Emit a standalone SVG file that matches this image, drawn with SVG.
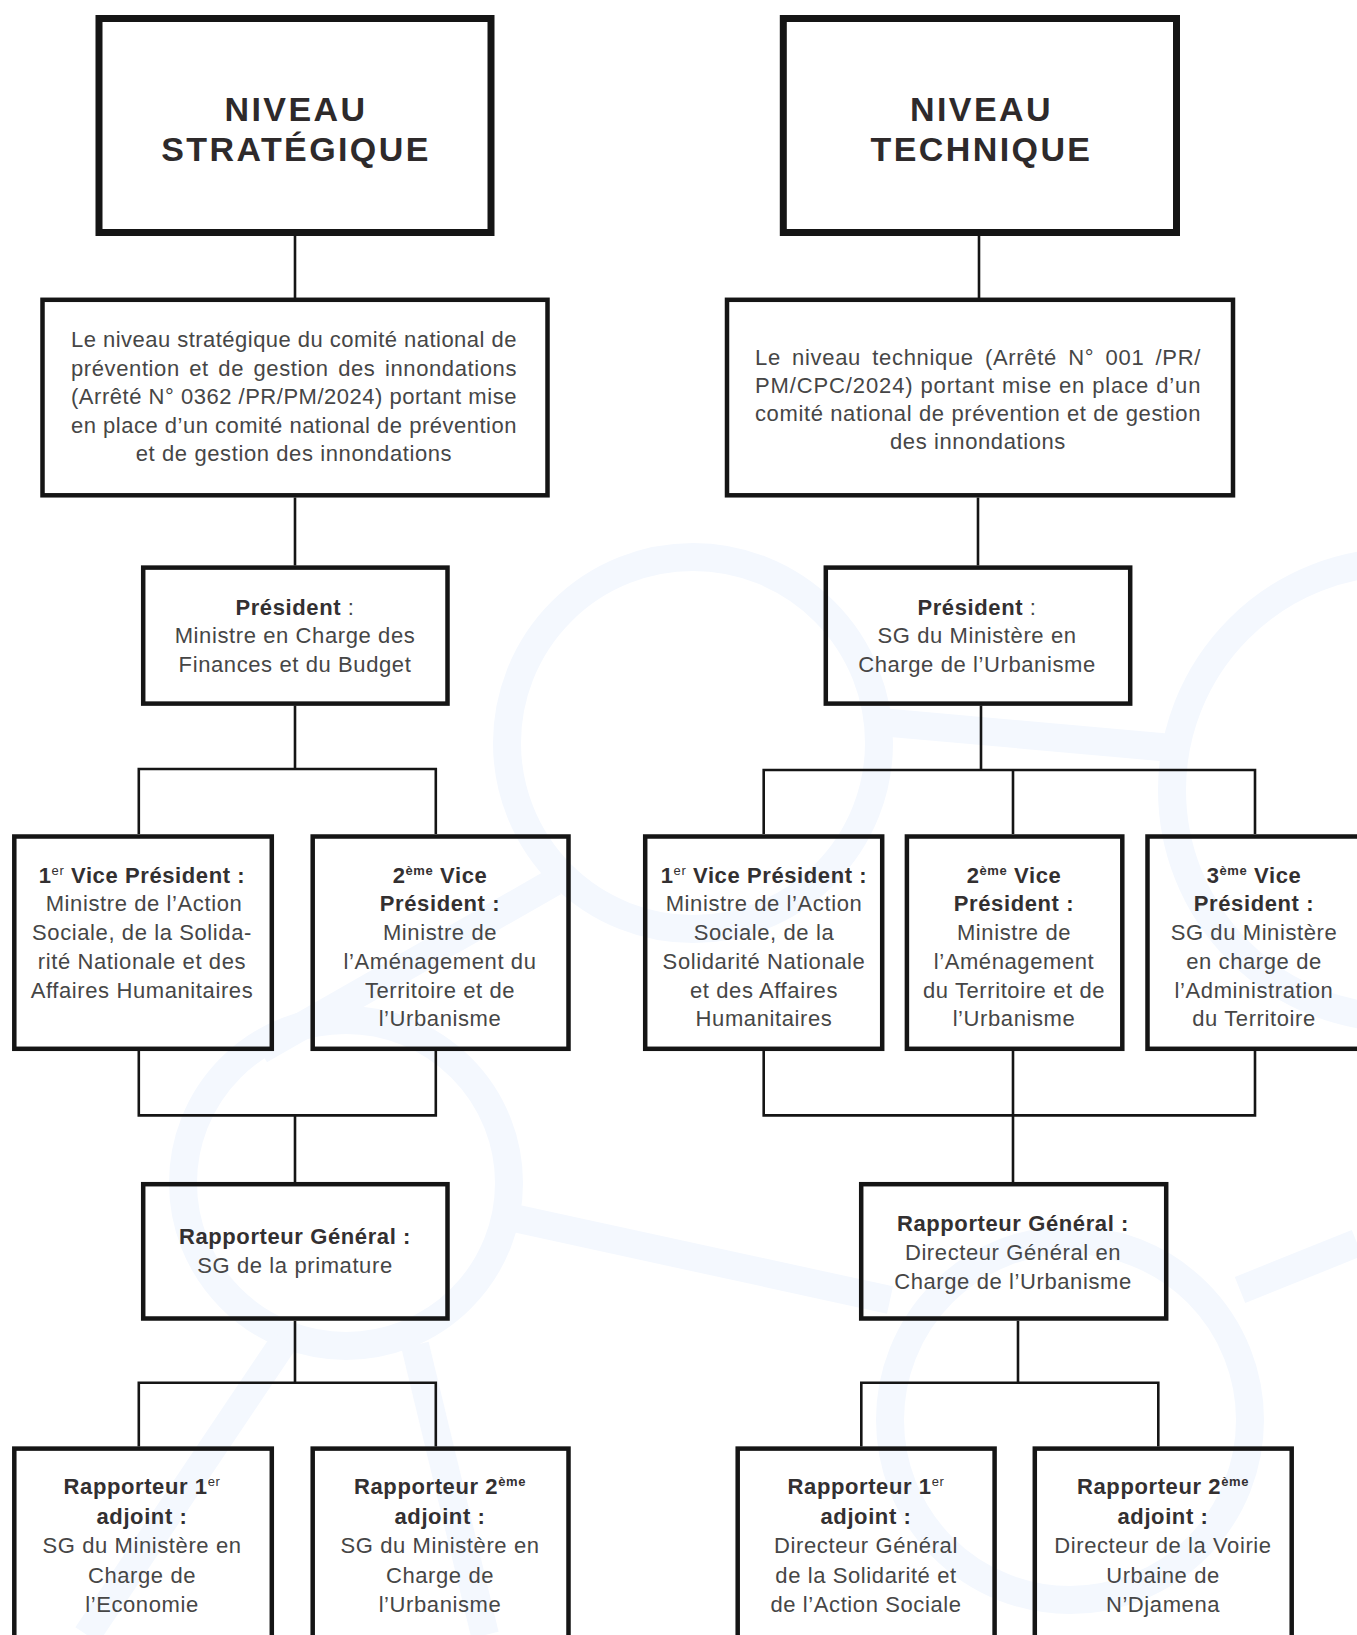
<svg xmlns="http://www.w3.org/2000/svg" width="1357" height="1635" viewBox="0 0 1357 1635">
<style>
.wm{fill:none;stroke:#f4f8fe;stroke-width:28}
.thick{fill:none;stroke:#151515;stroke-width:7}
.box{fill:none;stroke:#151515;stroke-width:4.5}
.conn{fill:none;stroke:#151515;stroke-width:2.6}
text{font-family:"Liberation Sans",Arial,Helvetica,sans-serif;font-size:22px;letter-spacing:0.6px;fill:#464646;text-anchor:middle}
.b{font-weight:bold;fill:#333031}
.j{text-anchor:start}
.title{font-size:34px;font-weight:bold;letter-spacing:2.4px;fill:#2e2a2b}
.sup{font-size:13px}
</style>
<rect width="1357" height="1635" fill="#ffffff"/>
<g id="watermark">
<circle class="wm" cx="693" cy="743" r="186"/>
<circle class="wm" cx="1400" cy="790" r="228"/>
<circle class="wm" cx="346" cy="1183" r="163"/>
<circle class="wm" cx="1070" cy="1420" r="180"/>
<line class="wm" x1="880" y1="722" x2="1172" y2="748"/>
<line class="wm" x1="554" y1="882" x2="260" y2="1050"/>
<line class="wm" x1="500" y1="1215" x2="890" y2="1300"/>
<line class="wm" x1="1240" y1="1290" x2="1357" y2="1243"/>
<line class="wm" x1="285" y1="1340" x2="87" y2="1635"/>
<line class="wm" x1="415" y1="1345" x2="485" y2="1635"/>
</g>
<g id="connectors">
<path class="conn" d="M295 235.5V299M295 497.5V565.5M295 705.5V769M138.8 834V769H435.8V834M138.8 1051V1115.4H435.8V1051M295 1115.4V1182M295 1320.7V1382.7M138.8 1446.4V1382.7H435.8V1446.4"/>
<path class="conn" d="M979 235.5V299M978 497.5V565.5M981 705.5V770M763.7 834V770H1255V834M1013 770V834M763.7 1051V1115.4H1255V1051M1013 1051V1182M1018 1320.7V1382.7M861.3 1446.4V1382.7H1158.3V1446.4"/>
</g>
<g id="niveau-strategique">
<rect class="thick" x="99" y="18.5" width="392" height="214"/>
<text class="title" x="296" y="121">NIVEAU</text>
<text class="title" x="296" y="161">STRATÉGIQUE</text>
</g>
<g id="desc-strategique">
<rect class="box" x="42.5" y="299.8" width="505" height="195.5"/>
<text class="j" x="71" y="347" textLength="446" lengthAdjust="spacing">Le niveau stratégique du comité national de</text>
<text class="j" x="71" y="375.5" textLength="446" lengthAdjust="spacing" word-spacing="2.8">prévention et de gestion des innondations</text>
<text class="j" x="71" y="404" textLength="446" lengthAdjust="spacing">(Arrêté N° 0362 /PR/PM/2024) portant mise</text>
<text class="j" x="71" y="432.5" textLength="446" lengthAdjust="spacing">en place d’un comité national de prévention</text>
<text x="294" y="461">et de gestion des innondations</text>
</g>
<g id="president-strategique">
<rect class="box" x="143.2" y="567.6" width="304.3" height="136"/>
<text x="295" y="614.6"><tspan class="b">Président</tspan> :</text>
<text x="295" y="643.2">Ministre en Charge des</text>
<text x="295" y="671.8">Finances et du Budget</text>
</g>
<g id="vp1-strategique">
<rect class="box" x="14.3" y="836.5" width="257.5" height="212.3"/>
<text class="b" x="142" y="882.5">1<tspan class="sup" font-weight="normal" dy="-8">er</tspan><tspan dy="8"> Vice Président :</tspan></text>
<text x="144" y="911.3">Ministre de l’Action</text>
<text x="142" y="940">Sociale, de la Solida-</text>
<text x="142" y="968.8">rité Nationale et des</text>
<text x="142" y="997.5">Affaires Humanitaires</text>
</g>
<g id="vp2-strategique">
<rect class="box" x="312.7" y="836.5" width="255.8" height="212.3"/>
<text class="b" x="440" y="882.5">2<tspan class="sup" dy="-8">ème</tspan><tspan dy="8"> Vice</tspan></text>
<text class="b" x="440" y="911.3">Président :</text>
<text x="440" y="940">Ministre de</text>
<text x="440" y="968.8">l’Aménagement du</text>
<text x="440" y="997.5">Territoire et de</text>
<text x="440" y="1026.3">l’Urbanisme</text>
</g>
<g id="rg-strategique">
<rect class="box" x="143.2" y="1184.2" width="304.3" height="134.3"/>
<text class="b" x="295" y="1243.5">Rapporteur Général :</text>
<text x="295" y="1273">SG de la primature</text>
</g>
<g id="r1-strategique">
<rect class="box" x="14.3" y="1448.6" width="257.5" height="260"/>
<text class="b" x="142" y="1494">Rapporteur 1<tspan class="sup" font-weight="normal" dy="-8">er</tspan></text>
<text class="b" x="142" y="1523.5">adjoint :</text>
<text x="142" y="1553">SG du Ministère en</text>
<text x="142" y="1582.5">Charge de</text>
<text x="142" y="1611.5">l’Economie</text>
</g>
<g id="r2-strategique">
<rect class="box" x="312.7" y="1448.6" width="255.8" height="260"/>
<text class="b" x="440" y="1494">Rapporteur 2<tspan class="sup" dy="-8">ème</tspan></text>
<text class="b" x="440" y="1523.5">adjoint :</text>
<text x="440" y="1553">SG du Ministère en</text>
<text x="440" y="1582.5">Charge de</text>
<text x="440" y="1611.5">l’Urbanisme</text>
</g>
<g id="niveau-technique">
<rect class="thick" x="783.3" y="18.5" width="393.2" height="214"/>
<text class="title" x="981.5" y="121">NIVEAU</text>
<text class="title" x="981.5" y="161">TECHNIQUE</text>
</g>
<g id="desc-technique">
<rect class="box" x="727" y="299.8" width="506" height="195.5"/>
<text class="j" x="755" y="364.8" textLength="446" lengthAdjust="spacing" word-spacing="4.5">Le niveau technique (Arrêté N° 001 /PR/</text>
<text class="j" x="755" y="393" textLength="446" lengthAdjust="spacing">PM/CPC/2024) portant mise en place d’un</text>
<text class="j" x="755" y="421.2" textLength="446" lengthAdjust="spacing">comité national de prévention et de gestion</text>
<text x="978" y="449.4">des innondations</text>
</g>
<g id="president-technique">
<rect class="box" x="825.8" y="567.6" width="304.4" height="136"/>
<text x="977" y="614.6"><tspan class="b">Président</tspan> :</text>
<text x="977" y="643.2">SG du Ministère en</text>
<text x="977" y="671.8">Charge de l’Urbanisme</text>
</g>
<g id="vp1-technique">
<rect class="box" x="645.2" y="836.5" width="237" height="212.3"/>
<text class="b" x="764" y="882.5">1<tspan class="sup" font-weight="normal" dy="-8">er</tspan><tspan dy="8"> Vice Président :</tspan></text>
<text x="764" y="911.3">Ministre de l’Action</text>
<text x="764" y="940">Sociale, de la</text>
<text x="764" y="968.8">Solidarité Nationale</text>
<text x="764" y="997.5">et des Affaires</text>
<text x="764" y="1026.3">Humanitaires</text>
</g>
<g id="vp2-technique">
<rect class="box" x="906.9" y="836.5" width="215.4" height="212.3"/>
<text class="b" x="1014" y="882.5">2<tspan class="sup" dy="-8">ème</tspan><tspan dy="8"> Vice</tspan></text>
<text class="b" x="1014" y="911.3">Président :</text>
<text x="1014" y="940">Ministre de</text>
<text x="1014" y="968.8">l’Aménagement</text>
<text x="1014" y="997.5">du Territoire et de</text>
<text x="1014" y="1026.3">l’Urbanisme</text>
</g>
<g id="vp3-technique">
<rect class="box" x="1147.5" y="836.5" width="214" height="212.3"/>
<text class="b" x="1254" y="882.5">3<tspan class="sup" dy="-8">ème</tspan><tspan dy="8"> Vice</tspan></text>
<text class="b" x="1254" y="911.3">Président :</text>
<text x="1254" y="940">SG du Ministère</text>
<text x="1254" y="968.8">en charge de</text>
<text x="1254" y="997.5">l’Administration</text>
<text x="1254" y="1026.3">du Territoire</text>
</g>
<g id="rg-technique">
<rect class="box" x="861.2" y="1184.2" width="305" height="134.3"/>
<text class="b" x="1013" y="1231">Rapporteur Général :</text>
<text x="1013" y="1260">Directeur Général en</text>
<text x="1013" y="1288.8">Charge de l’Urbanisme</text>
</g>
<g id="r1-technique">
<rect class="box" x="737.7" y="1448.6" width="256.9" height="260"/>
<text class="b" x="866" y="1494">Rapporteur 1<tspan class="sup" font-weight="normal" dy="-8">er</tspan></text>
<text class="b" x="866" y="1523.5">adjoint :</text>
<text x="866" y="1553">Directeur Général</text>
<text x="866" y="1582.5">de la Solidarité et</text>
<text x="866" y="1611.5">de l’Action Sociale</text>
</g>
<g id="r2-technique">
<rect class="box" x="1034.8" y="1448.6" width="256.9" height="260"/>
<text class="b" x="1163" y="1494">Rapporteur 2<tspan class="sup" dy="-8">ème</tspan></text>
<text class="b" x="1163" y="1523.5">adjoint :</text>
<text x="1163" y="1553">Directeur de la Voirie</text>
<text x="1163" y="1582.5">Urbaine de</text>
<text x="1163" y="1611.5">N’Djamena</text>
</g>
</svg>
